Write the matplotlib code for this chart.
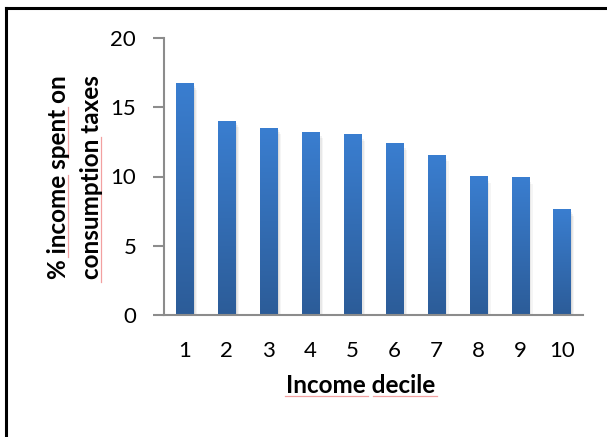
import numpy as np
import matplotlib.pyplot as plt
from matplotlib.patches import Rectangle
from matplotlib.lines import Line2D

# --- datos ---
deciles = ['1', '2', '3', '4', '5', '6', '7', '8', '9', '10']
pct_impuestos = [16.7, 14.0, 13.5, 13.2, 13.0, 12.35, 11.55, 10.0, 9.9, 7.6]
yticks = [0, 5, 10, 15, 20]

W, H = 607, 437
plt.rcParams['font.family'] = ['Lato', 'DejaVu Sans']

fig = plt.figure(figsize=(W / 100, H / 100), dpi=100)
ax = fig.add_axes([164 / W, 1 - 315 / H, (583 - 164) / W, (315 - 38) / H])

x = np.arange(len(deciles))
ancho = 0.41

# degradado vertical tipo Excel (claro arriba, oscuro abajo)
top = np.array([58, 126, 208]) / 255
bot = np.array([44, 92, 152]) / 255
t = np.linspace(1, 0, 256)[:, None]
grad = (t * top + (1 - t) * bot)[:, None, :]

for xi, h in zip(x, pct_impuestos):
    # sombra suave
    for k, a in enumerate([0.06, 0.05, 0.04]):
        d = 0.03 * (k + 1)
        ax.add_patch(Rectangle((xi - ancho / 2 + d, -0.15 * (k + 1)), ancho, h,
                               facecolor='black', alpha=a, edgecolor='none', zorder=1))
    ax.imshow(grad, extent=[xi - ancho / 2, xi + ancho / 2, 0, h],
              aspect='auto', zorder=2, interpolation='bilinear')

ax.set_xlim(-0.5, len(deciles) - 0.5)
ax.set_ylim(0, 20)
ax.set_xticks(x)
ax.set_xticklabels(deciles)
ax.set_yticks(yticks)

for s in ['top', 'right']:
    ax.spines[s].set_visible(False)
for s in ['left', 'bottom']:
    ax.spines[s].set_color('#8c8c8c')
    ax.spines[s].set_linewidth(1.5)
    ax.spines[s].set_zorder(3)

ax.tick_params(axis='y', length=8, width=1.5, color='#8c8c8c', pad=12, labelsize=16)
ax.tick_params(axis='x', length=0, pad=19, labelsize=16)

# etiquetas de los ejes (dos líneas en Y, colocadas sobre su línea base)
fig.text(66 / W, 1 - 177 / H, '% income spent on', rotation=90, rotation_mode='anchor',
         ha='center', va='baseline', fontsize=17.5, fontweight='bold')
fig.text(99 / W, 1 - 177 / H, 'consumption taxes', rotation=90, rotation_mode='anchor',
         ha='center', va='baseline', fontsize=17.5, fontweight='bold')
fig.text(361 / W, 1 - 393 / H, 'Income decile', ha='center', va='baseline',
         fontsize=17.5, fontweight='bold')

# subrayado rojo del corrector ortográfico
rojo = '#f2a0a0'
for (x0, y0, x1, y1) in [(67.5, 107, 67.5, 158), (67.5, 175, 67.5, 257),
                         (100.5, 137, 100.5, 282),
                         (285, 395.5, 368, 395.5), (373, 395.5, 437, 395.5)]:
    fig.add_artist(Line2D([x0 / W, x1 / W], [1 - y0 / H, 1 - y1 / H],
                          color=rojo, lw=0.9, transform=fig.transFigure))

# marco del gráfico (arriba e izquierda)
fig.add_artist(Line2D([6 / W, 1], [1 - 7.5 / H, 1 - 7.5 / H], color='black', lw=2.2,
                      transform=fig.transFigure))
fig.add_artist(Line2D([6 / W, 6 / W], [0, 1 - 7.5 / H], color='black', lw=2.2,
                      transform=fig.transFigure))

fig.savefig('out.png', dpi=100)
